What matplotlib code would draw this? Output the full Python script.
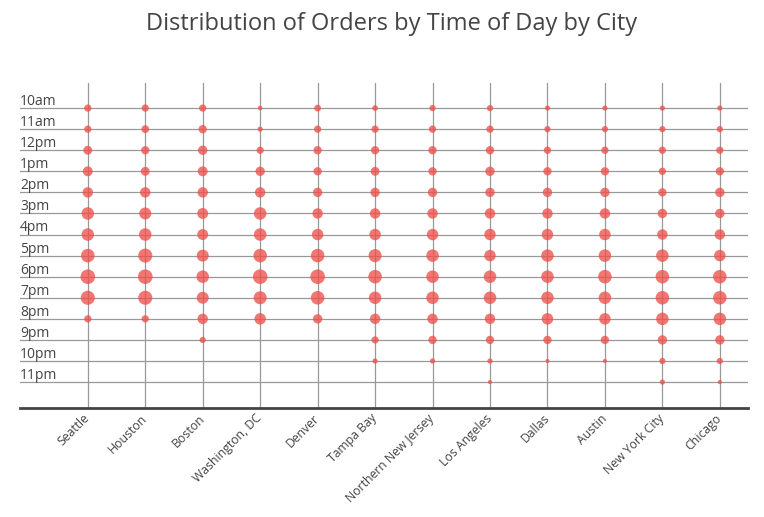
import matplotlib.pyplot as plt
import numpy as np

plt.rcParams['font.family'] = ['Open Sans', 'DejaVu Sans']

cities = ['Seattle', 'Houston', 'Boston', 'Washington, DC', 'Denver', 'Tampa Bay',
          'Northern New Jersey', 'Los Angeles', 'Dallas', 'Austin', 'New York City', 'Chicago']
hours = ['10am', '11am', '12pm', '1pm', '2pm', '3pm', '4pm', '5pm', '6pm', '7pm',
         '8pm', '9pm', '10pm', '11pm']

# relative order volume per hour (0 = no orders shown)
seattle = [7, 7, 8.5, 9.5, 10, 12, 12, 13, 14, 13.5, 7, 0, 0, 0]
houston = [7, 7.5, 8, 8.5, 10, 11.5, 12, 13.5, 14, 13.5, 7, 0, 0, 0]
boston = [7, 8, 9, 9.5, 10, 10.5, 10.5, 11.5, 12, 11.5, 10, 6, 0, 0]
washington = [4.5, 5, 7, 9, 10, 12, 12, 13, 14, 12.5, 11, 0, 0, 0]
denver = [6.5, 7, 8, 8, 9, 10, 11, 13, 14, 13, 9, 0, 0, 0]
tampa = [5.5, 7, 8, 8.5, 9, 10, 11, 12.5, 13, 12, 10, 7, 5, 0]
nnj = [6, 7, 8, 8, 9, 10, 11, 12, 12, 12, 10, 8, 5, 0]
los_angeles = [6, 7, 8, 9, 9, 10, 11, 11, 12, 12, 10, 8, 5, 4]
dallas = [5, 6, 7, 8, 9, 10, 11, 12, 12, 12, 11, 8, 4, 0]
austin = [5, 6, 7, 8, 9, 10, 11, 12, 13, 12, 11, 8, 4, 0]
new_york = [5, 6, 7, 7, 8, 9, 10, 12, 13, 13, 12, 9, 6, 5]
chicago = [5, 6, 7, 8, 9, 9, 10, 11, 13, 13, 12, 9, 6, 4]

volumes = [seattle, houston, boston, washington, denver, tampa, nnj,
           los_angeles, dallas, austin, new_york, chicago]

fig = plt.figure(figsize=(7.64, 5.17), dpi=100)
ax = fig.add_axes([20 / 764, 1 - 408 / 517, 728 / 764, 325 / 517])

for i, vals in enumerate(volumes):
    vals = np.array(vals, dtype=float)
    idx = np.nonzero(vals)[0]
    ax.scatter(np.full(len(idx), i), idx, s=(vals[idx] * 0.75) ** 2,
               color='#ef4f4a', alpha=0.78, linewidths=0, zorder=3)

ax.set_xlim(-1.18, 11.49)
ax.set_ylim(14.23, -1.19)

ax.set_xticks(range(len(cities)))
ax.set_xticklabels(cities, rotation=45, ha='right', va='center',
                   rotation_mode='anchor', fontsize=8.8, color='#444444')
ax.set_yticks(range(len(hours)))
ax.set_yticklabels([])
ax.tick_params(length=0, pad=6)
ax.grid(True, color='#999999', linewidth=0.9, zorder=1)
ax.set_axisbelow(True)

for s in ['top', 'left', 'right']:
    ax.spines[s].set_visible(False)
ax.spines['bottom'].set_color('#444444')
ax.spines['bottom'].set_linewidth(2)

for j, h in enumerate(hours):
    ax.annotate(h, xy=(0, j), xycoords=('axes fraction', 'data'),
                xytext=(0, 2.2), textcoords='offset points',
                ha='left', va='baseline', fontsize=10, color='#444444')

fig.text(0.513, 1 - 24 / 517, 'Distribution of Orders by Time of Day by City',
         ha='center', va='center', fontsize=17, color='#444444')

fig.savefig('out.png', dpi=100)
